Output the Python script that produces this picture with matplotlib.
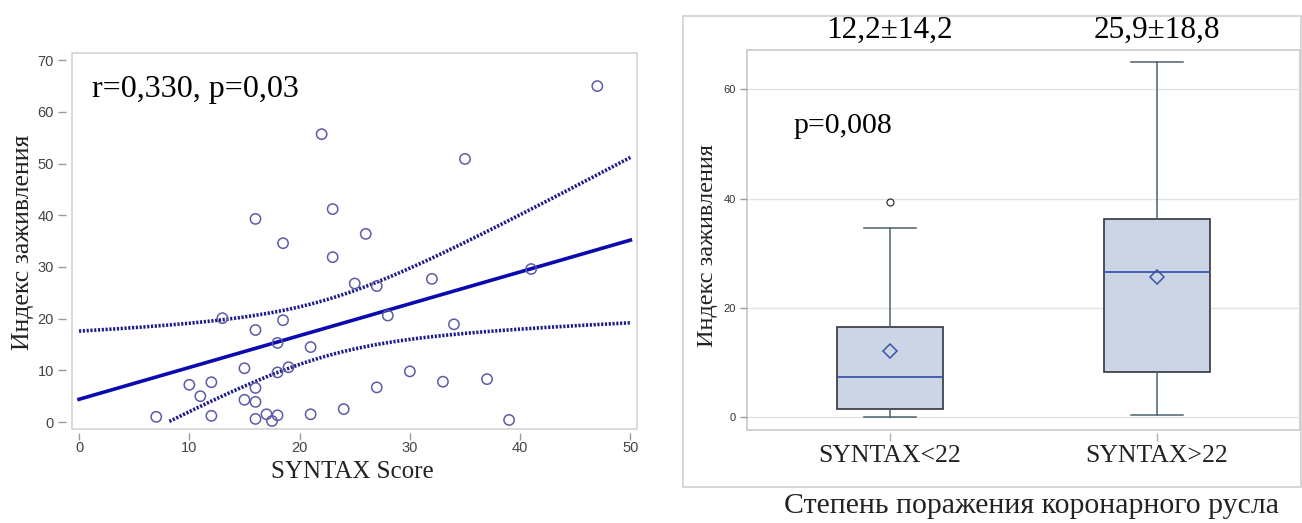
import numpy as np
import matplotlib
matplotlib.use("Agg")
import matplotlib.pyplot as plt
from matplotlib.patches import Rectangle

# ---------------- data ----------------
syntax_score = [7, 10, 11, 12, 12, 13, 15, 15, 16, 16, 16, 16, 16, 17, 17.5,
                18, 18, 18, 18.5, 18.5, 19, 21, 21, 22, 23, 23, 24, 25, 26,
                27, 27, 28, 30, 32, 33, 34, 35, 37, 39, 41, 47]
healing_index = [1.0, 7.2, 5.0, 7.7, 1.2, 20.1, 10.4, 4.3, 39.3, 17.8, 6.6, 3.9, 0.6, 1.5, 0.2,
                 15.3, 9.6, 1.3, 34.6, 19.7, 10.6, 14.5, 1.5, 55.7, 41.2, 31.9, 2.5, 26.8, 36.4,
                 26.3, 6.7, 20.6, 9.8, 27.7, 7.8, 18.9, 50.9, 8.3, 0.4, 29.6, 65.0]
corr_text = "r=0,330, p=0,03"

# regression line and 95% confidence band
fit_intercept = 4.4
fit_slope = 0.616
band_center_x = 22.2
band_min_var = 29.6
band_curvature = 0.293

groups = ["SYNTAX<22", "SYNTAX>22"]
q1 = [1.5, 8.2]
median = [7.3, 26.5]
q3 = [16.5, 36.2]
whisker_low = [0.0, 0.4]
whisker_high = [34.6, 65.0]
means = [12.1, 25.6]
outliers = [[39.3], []]
mean_sd_labels = ["12,2±14,2", "25,9±18,8"]
p_text = "p=0,008"

ylabel = "Индекс заживления"
xlabel_left = "SYNTAX Score"
xlabel_right = "Степень поражения коронарного русла"

SERIF = ["Liberation Serif", "DejaVu Serif"]
SANS = ["Liberation Sans", "DejaVu Sans"]

W, H = 1302, 523
fig = plt.figure(figsize=(W / 100, H / 100), dpi=100)

def fx(px):
    return px / W

def fy(py):
    return 1 - py / H

# ---------------- left: scatter + regression ----------------
axL = fig.add_axes([fx(72), fy(429), fx(637) - fx(72), fy(53) - fy(429)])
axL.set_xlim(-0.64, 50.6)
axL.set_ylim(-1.35, 71.4)
for s in axL.spines.values():
    s.set_visible(False)
axL.spines['left'].set_position(('outward', 4))
axL.spines['bottom'].set_position(('outward', 3))
axL.add_patch(Rectangle((0, 0), 1, 1, transform=axL.transAxes, fill=False,
                        edgecolor="#d4d4d4", lw=1.2, clip_on=False, zorder=0))

x = np.array(syntax_score, dtype=float)
y = np.array(healing_index, dtype=float)
xg = np.linspace(0, 50, 300)
yg = fit_intercept + fit_slope * xg
hw = np.sqrt(band_min_var + band_curvature * (xg - band_center_x) ** 2)
upper = yg + hw
lower = yg - hw
lower = np.where(lower >= 0, lower, np.nan)

axL.plot(xg, yg, color="#0a0ab0", lw=2.6, zorder=3)
dot = (0, (0.6, 0.45))
axL.plot(xg, upper, color="#1c1c8a", lw=2.6, linestyle=dot, zorder=3)
axL.plot(xg, lower, color="#1c1c8a", lw=2.6, linestyle=dot, zorder=3)
axL.scatter(x, y, s=55, facecolors="none", edgecolors="#5c5ca6", linewidths=1.1, zorder=4)

axL.set_xticks([0, 10, 20, 30, 40, 50])
axL.set_yticks([0, 10, 20, 30, 40, 50, 60, 70])
axL.tick_params(axis='y', colors="#9a9a9a", length=6, width=1, labelsize=10.5,
                labelcolor="#444444", pad=3)
axL.tick_params(axis='x', colors="#9a9a9a", length=5, width=1, labelsize=10.5,
                labelcolor="#444444", pad=1)
for lab in axL.get_xticklabels() + axL.get_yticklabels():
    lab.set_family(SANS)

fig.text(fx(352), fy(478), xlabel_left, family=SERIF, fontsize=18, color="#222222",
         ha="center", va="baseline")
fig.text(fx(23), fy(242), ylabel, family=SERIF, fontsize=18.5, color="#222222",
         ha="center", va="center", rotation=90)
fig.text(fx(92), fy(97), corr_text, family=SERIF, fontsize=23, color="black",
         ha="left", va="baseline")

# ---------------- right: box plot ----------------
fig.add_artist(Rectangle((fx(683), fy(487)), fx(1301) - fx(683), fy(16) - fy(487),
                         transform=fig.transFigure, fill=False, edgecolor="#cfcfcf", lw=1.2))

axR = fig.add_axes([fx(747), fy(430), fx(1300) - fx(747), fy(50) - fy(430)])
axR.set_xlim(-0.536, 1.536)
axR.set_ylim(-2.4, 67.2)
for s in axR.spines.values():
    s.set_visible(False)
axR.spines['bottom'].set_position(('outward', 2))
axR.add_patch(Rectangle((0, 0), 1, 1, transform=axR.transAxes, fill=False,
                        edgecolor="#c8c8c8", lw=1.2, clip_on=False, zorder=0))
axR.set_yticks([0, 20, 40, 60])
axR.yaxis.grid(True, color="#e2e2e2", lw=1)
axR.set_axisbelow(True)

stats = []
for i in range(len(groups)):
    stats.append(dict(label=groups[i], q1=q1[i], med=median[i], q3=q3[i],
                      whislo=whisker_low[i], whishi=whisker_high[i],
                      mean=means[i], fliers=outliers[i]))
axR.bxp(stats, positions=[0, 1], widths=0.40, patch_artist=True, showmeans=True,
        boxprops=dict(facecolor="#cbd5e6", edgecolor="#34343e", lw=1.2),
        medianprops=dict(color="#3a56a8", lw=1.3),
        whiskerprops=dict(color="#4a6272", lw=1.1),
        capprops=dict(color="#4a6272", lw=1.1),
        capwidths=0.195,
        meanprops=dict(marker="D", markersize=7, markerfacecolor="none",
                       markeredgecolor="#3a56a8", markeredgewidth=1.1),
        flierprops=dict(marker="o", markersize=5, markerfacecolor="none",
                        markeredgecolor="#333333", markeredgewidth=0.9))

axR.set_xticks([0, 1])
axR.set_xticklabels(groups)
axR.tick_params(axis='y', colors="#9a9a9a", length=5, width=1, labelsize=8,
                labelcolor="#333333", pad=3)
axR.tick_params(axis='x', colors="#b0b0b0", length=6, width=1, labelsize=18.5,
                labelcolor="#222222", pad=3)
for lab in axR.get_yticklabels():
    lab.set_family(SANS)
for lab in axR.get_xticklabels():
    lab.set_family(SERIF)

fig.text(fx(707), fy(246), ylabel, family=SERIF, fontsize=17.5, color="#222222",
         ha="center", va="center", rotation=90)

for i, t in enumerate(mean_sd_labels):
    axR.annotate(t, xy=(i, 1), xycoords=axR.get_xaxis_transform(),
                 xytext=(0, fy(38) * H - fy(50) * H), textcoords="offset pixels",
                 family=SERIF, fontsize=22.5, ha="center", va="baseline", color="black")
fig.text(fx(793), fy(133), p_text, family=SERIF, fontsize=21.5, color="black",
         ha="left", va="baseline")

fig.text(fx(1031), fy(513), xlabel_right, family=SERIF, fontsize=21.5,
         ha="center", va="baseline", color="#222222")

fig.savefig("out.png", dpi=100)
